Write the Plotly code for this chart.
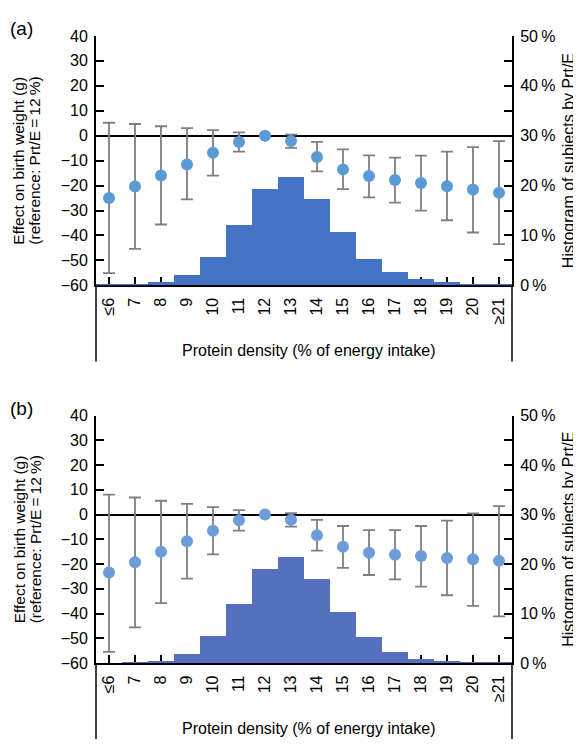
import plotly.graph_objects as go

# The page body has an 8px default margin; the figure is sized so that it fills the 581x748 window.
PAGE_W, PAGE_H = 581, 748
OFF = 8
W, H = PAGE_W - OFF, PAGE_H - OFF

categories = ["≤6", "7", "8", "9", "10", "11", "12", "13", "14", "15", "16", "17", "18", "19", "20", "≥21"]

# Panel (a)
effect_a = [-25.0, -20.4, -16.0, -11.5, -6.8, -2.5, 0.0, -2.1, -8.5, -13.5, -16.2, -17.8, -19.0, -20.3, -21.6, -22.9]
upper_a = [5.2, 4.7, 3.8, 3.0, 2.2, 1.3, 0.0, 0.4, -2.5, -5.5, -7.9, -8.8, -8.0, -6.4, -4.6, -2.2]
lower_a = [-55.1, -45.4, -35.6, -25.5, -16.0, -6.4, 0.0, -4.9, -14.3, -21.4, -24.7, -26.8, -30.0, -33.9, -38.8, -43.5]
hist_a = [0.1, 0.3, 0.7, 2.1, 5.7, 12.2, 19.3, 21.7, 17.3, 10.7, 5.4, 2.7, 1.3, 0.7, 0.3, 0.2]

# Panel (b)
effect_b = [-23.4, -19.3, -15.0, -10.8, -6.5, -2.3, 0.0, -2.1, -8.3, -13.0, -15.4, -16.2, -16.7, -17.5, -18.0, -18.7]
upper_b = [8.1, 6.9, 5.6, 4.3, 3.0, 1.8, 0.0, 0.6, -2.1, -4.6, -6.3, -6.3, -4.6, -2.4, 0.5, 3.4]
lower_b = [-55.5, -45.6, -35.8, -25.9, -16.1, -6.5, 0.0, -4.9, -14.6, -21.5, -24.4, -26.2, -29.1, -32.6, -36.9, -41.1]
hist_b = [0.05, 0.1, 0.45, 2.0, 5.5, 12.0, 19.1, 21.6, 17.0, 10.5, 5.3, 2.4, 1.0, 0.45, 0.15, 0.1]

pct_vals = [0, 10, 20, 30, 40, 50]
pct_text = [f"{v}\u2009%" for v in pct_vals]
left_vals = [-60, -50, -40, -30, -20, -10, 0, 10, 20, 30, 40]

FONT = "Liberation Sans, Arial, Helvetica, sans-serif"

def px(x):
    return (x - OFF) / W

def py(y):
    return 1 - (y - OFF) / H

X0, X1 = 96, 512
panels = [
    dict(label="(a)", top=28.4, bottom=283.7, eff=effect_a, up=upper_a, lo=lower_a, hist=hist_a,
         bar="#4472C4", dot="#5B9BD5"),
    dict(label="(b)", top=417.0, bottom=670.3, eff=effect_b, up=upper_b, lo=lower_b, hist=hist_b,
         bar="#5470BF", dot="#6C9DD8"),
]

fig = go.Figure()
annotations = []
shapes = []

for i, p in enumerate(panels):
    xa = "x" if i == 0 else "x2"
    yb = "y" if i == 0 else "y3"      # histogram axis (base, right)
    ye = "y2" if i == 0 else "y4"     # effect axis (overlay, left)
    fig.add_trace(go.Bar(x=categories, y=p["hist"], xaxis=xa, yaxis=yb,
                         marker=dict(color=p["bar"], line=dict(width=0)),
                         showlegend=False, hoverinfo="skip"))
    plus = [u - e for u, e in zip(p["up"], p["eff"])]
    minus = [e - l for e, l in zip(p["eff"], p["lo"])]
    fig.add_trace(go.Scatter(x=categories, y=p["eff"], xaxis=xa, yaxis=ye, mode="markers",
                             marker=dict(size=12, color=p["dot"]),
                             error_y=dict(type="data", symmetric=False, array=plus, arrayminus=minus,
                                          color="#7F7F7F", thickness=1.8, width=6, visible=True),
                             showlegend=False))

    dom_y = [py(p["bottom"]), py(p["top"])]
    sfx = "" if i == 0 else "2"
    xkey = "xaxis" + sfx
    ybkey = "yaxis" if i == 0 else "yaxis3"
    yekey = "yaxis2" if i == 0 else "yaxis4"
    fig.update_layout(**{
        xkey: dict(domain=[px(X0), px(X1)], anchor=yb, type="category",
                   categoryorder="array", categoryarray=categories,
                   range=[-0.5, 15.5], showline=True, linecolor="black", linewidth=2,
                   ticks="inside", ticklen=8, tickwidth=2, tickcolor="black",
                   tickangle=-90, tickfont=dict(size=16, color="black", family=FONT),
                   ticklabelstandoff=4,
                   showgrid=False, zeroline=False, layer="below traces", fixedrange=True),
        ybkey: dict(domain=dom_y, anchor=xa, side="right", range=[0, 50],
                    tickvals=pct_vals, ticktext=pct_text, showline=True, linecolor="black",
                    linewidth=2, ticks="inside", ticklen=8, tickwidth=2, tickcolor="black",
                    minor=dict(ticks="inside", dtick=5, ticklen=8, tickwidth=2, tickcolor="black"),
                    tickfont=dict(size=16, color="black", family=FONT), ticklabelstandoff=3,
                    showgrid=False, zeroline=False, fixedrange=True),
        yekey: dict(domain=dom_y, anchor=xa, overlaying=yb, side="left", range=[-60, 40],
                    tickvals=left_vals, showline=True, linecolor="black", linewidth=2,
                    ticks="inside", ticklen=8, tickwidth=2, tickcolor="black",
                    tickfont=dict(size=16, color="black", family=FONT), ticklabelstandoff=3,
                    showgrid=False, zeroline=True, zerolinecolor="black", zerolinewidth=2,
                    fixedrange=True),
    })

    off = p["top"] - 28.4
    ymid = (p["top"] + p["bottom"]) / 2
    annotations += [
        dict(text=p["label"], x=px(8), y=py(21 + off), xref="paper", yref="paper",
             xanchor="left", yanchor="middle", showarrow=False,
             font=dict(size=19, color="black", family=FONT)),
        dict(text="Effect on birth weight (g)", x=px(19), y=py(ymid), xref="paper", yref="paper",
             xanchor="center", yanchor="middle", textangle=-90, showarrow=False,
             font=dict(size=15.5, color="black", family=FONT)),
        dict(text="(reference: Prt/E\u2009=\u200912\u2009%)", x=px(35), y=py(ymid), xref="paper", yref="paper",
             xanchor="center", yanchor="middle", textangle=-90, showarrow=False,
             font=dict(size=15.5, color="black", family=FONT)),
        dict(text="Histogram of subjects by Prt/E", x=px(568.5), y=py(ymid), xref="paper", yref="paper",
             xanchor="center", yanchor="middle", textangle=-90, showarrow=False,
             font=dict(size=16, color="black", family=FONT)),
        dict(text="Protein density (% of energy intake)", x=px(308), y=py(p["bottom"] + 67), xref="paper",
             yref="paper", xanchor="center", yanchor="middle", showarrow=False,
             font=dict(size=16, color="black", family=FONT)),
    ]
    for xx in (X0, X1):
        shapes.append(dict(type="line", xref="paper", yref="paper", x0=px(xx), x1=px(xx),
                           y0=py(p["bottom"]), y1=py(min(p["bottom"] + 78, PAGE_H)),
                           line=dict(color="black", width=1.5)))

fig.update_layout(width=W, height=H, margin=dict(l=0, r=0, t=0, b=0), autosize=False,
                  paper_bgcolor="white", plot_bgcolor="white", bargap=0,
                  annotations=annotations, shapes=shapes, font=dict(family=FONT, color="black"))

fig.write_html("out.html")
